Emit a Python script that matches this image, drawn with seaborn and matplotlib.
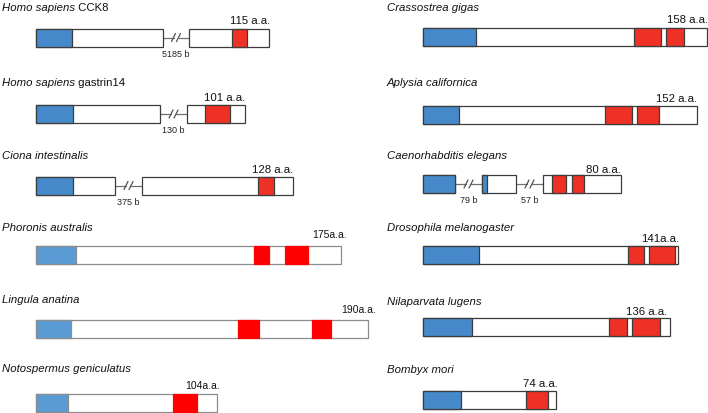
import matplotlib
matplotlib.use("Agg")
import matplotlib.pyplot as plt
import seaborn as sns

# species shown, left column first then right column
species = ["Homo sapiens", "Homo sapiens", "Ciona intestinalis", "Phoronis australis",
           "Lingula anatina", "Notospermus geniculatus",
           "Crassostrea gigas", "Aplysia californica", "Caenorhabditis elegans",
           "Drosophila melanogaster", "Nilaparvata lugens", "Bombyx mori"]
suffix = [" CCK8", " gastrin14", "", "", "", "", "", "", "", "", "", ""]
lengths = [115, 101, 128, 175, 190, 104, 158, 152, 80, 141, 136, 74]
aa_text = ["115 a.a.", "101 a.a.", "128 a.a.", "175a.a.", "190a.a.", "104a.a.",
           "158 a.a.", "152 a.a.", "80 a.a.", "141a.a.", "136 a.a.", "74 a.a."]

# exon boxes (start, end) in diagram units
exons = [[(0, 127), (153, 233)], [(0, 124), (151, 209)], [(0, 79), (106, 257)],
         [(0, 305)], [(0, 332)], [(0, 181)],
         [(0, 284)], [(0, 274)], [(0, 32), (59, 93), (120, 198)],
         [(0, 255)], [(0, 247)], [(0, 133)]]
# signal peptide (blue)
signal = [[(0, 36)], [(0, 37)], [(0, 37)], [(0, 40)], [(0, 35)], [(0, 32)],
          [(0, 53)], [(0, 36)], [(0, 32), (59, 64)], [(0, 56)], [(0, 49)], [(0, 38)]]
# CCK-like peptide (red)
peptide = [[(196, 211)], [(169, 194)], [(222, 238)], [(218, 233), (249, 272)],
           [(202, 223), (276, 295)], [(137, 161)],
           [(211, 238), (243, 261)], [(182, 209), (214, 236)], [(129, 143), (149, 161)],
           [(205, 221), (226, 252)], [(186, 204), (209, 237)], [(103, 125)]]
# introns (start, end, size label)
introns = [[(127, 153, "5185 b")], [(124, 151, "130 b")], [(79, 106, "375 b")],
           [], [], [], [], [], [(32, 59, "79 b"), (93, 120, "57 b")], [], [], []]
light = [False, False, False, True, True, True, False, False, False, False, False, False]

# layout
col_x = [36] * 6 + [423] * 6
box_y = [38.5, 115, 186.5, 255.5, 330, 404.5, 37.5, 115.5, 185, 255.5, 328, 401.5]
title_y = [11, 86, 159, 231, 303, 372, 11, 86, 159, 231, 305, 373]
label_y = [21, 98, 170, 235, 310, 386, 20, 99, 170, 239, 312, 384]
label_dx = [1, 0, 0, 6, 8, 3, 1, 0, 0, 1, -3, 2]
box_h = 18

sns.set_style("white")
plt.rcParams["font.family"] = ["Liberation Sans", "DejaVu Sans"]

fig = plt.figure(figsize=(7.08, 4.14), dpi=100)
ax = fig.add_axes([0, 0, 1, 1])
ax.set_xlim(0, 708)
ax.set_ylim(414, 0)
ax.axis("off")

for i in range(len(species)):
    x0 = col_x[i]
    yc = box_y[i]
    edge = "#8c8c8c" if light[i] else "#3c3c3c"
    blue = "#5b9bd5" if light[i] else "#4689ca"
    red = "#ff0000" if light[i] else "#ee3124"

    # introns with break marks
    for a, b, lab in introns[i]:
        m = x0 + (a + b) / 2
        ax.plot([x0 + a, m - 2.5], [yc, yc], color="#707070", lw=0.9)
        ax.plot([m + 2.5, x0 + b], [yc, yc], color="#707070", lw=0.9)
        for d in (-2.5, 2.5):
            ax.plot([m + d - 2, m + d + 2], [yc + 4, yc - 4], color="#505050", lw=0.9)
        ax.text(m, yc + box_h / 2 + 7, lab, fontsize=6.5, ha="center", va="center",
                color="#222222")

    # exon boxes
    for a, b in exons[i]:
        ax.barh(yc, b - a, left=x0 + a, height=box_h, color="white",
                edgecolor=edge, lw=0.9, zorder=2)
    for a, b in signal[i]:
        ax.barh(yc, b - a, left=x0 + a, height=box_h, color=blue,
                edgecolor=edge, lw=0.9, zorder=3)
    for a, b in peptide[i]:
        ax.barh(yc, b - a, left=x0 + a, height=box_h, color=red,
                edgecolor=edge if not light[i] else red, lw=0.9, zorder=3)

    end = x0 + exons[i][-1][1]
    ax.text(end + label_dx[i], label_y[i], aa_text[i], fontsize=8.2 if not light[i] else 7.5,
            ha="right", va="center", color="#111111")

    t = ax.text(x0 - 34 if i < 6 else x0 - 36, title_y[i], species[i], fontsize=8.2,
                style="italic", ha="left", va="baseline", color="#111111")
    if suffix[i]:
        ax.annotate(suffix[i], xy=(1, 0), xycoords=t, fontsize=8.2, ha="left",
                    va="bottom", color="#111111")

plt.savefig("out.png", dpi=100)
